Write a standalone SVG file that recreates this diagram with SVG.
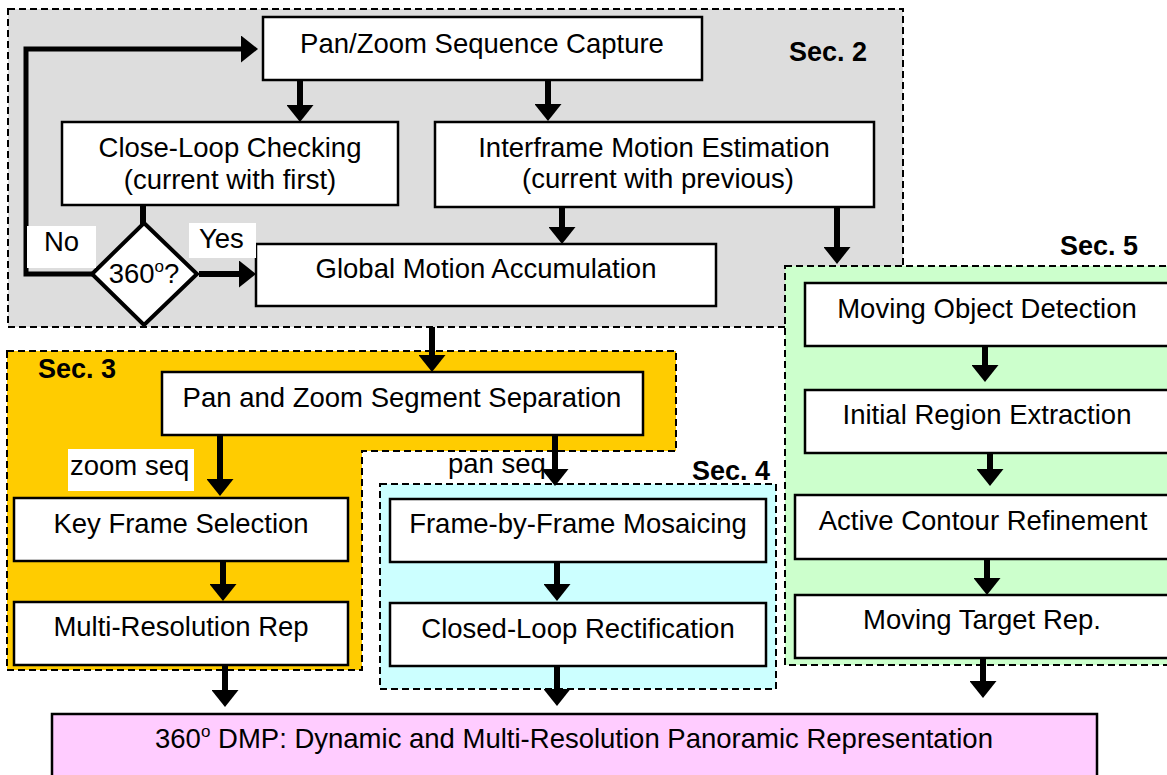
<svg xmlns="http://www.w3.org/2000/svg" width="1167" height="775" viewBox="0 0 1167 775">
  <style>
    text { font-family: "Liberation Sans", Arial, sans-serif; font-size: 27.5px; fill: #000; }
    .sec { font-weight: bold; font-size: 27px; }
    .mid { text-anchor: middle; }
    .box { fill: #fff; stroke: #000; stroke-width: 2.5; }
    .region { stroke: #000; stroke-width: 2; stroke-dasharray: 7 4; }
    .arrow { fill: none; stroke: #000; stroke-width: 6; marker-end: url(#ah); }
    .loop { fill: none; stroke: #000; stroke-width: 5; }
  </style>
  <defs>
    <marker id="ah" viewBox="0 0 17 27" refX="3" refY="13.5" markerWidth="17" markerHeight="27" orient="auto" markerUnits="userSpaceOnUse">
      <path d="M0,0 L17,13.5 L0,27 z" fill="#000"/>
    </marker>
  </defs>

  <rect width="1167" height="775" fill="#fff"/>

  <!-- section backgrounds -->
  <g id="sec2">
    <rect class="region" x="8" y="9" width="895" height="318" fill="#dddddd"/>
    <text class="sec" x="789" y="61">Sec. 2</text>
  </g>
  <g id="sec3">
    <polygon class="region" points="7,351 676,351 676,451 362,451 362,670 7,670" fill="#ffcc00"/>
    <text class="sec" x="38" y="378">Sec. 3</text>
  </g>
  <g id="sec4">
    <rect class="region" x="380" y="484" width="396" height="205" fill="#ccffff"/>
    <text class="sec" x="692" y="480">Sec. 4</text>
  </g>
  <g id="sec5">
    <rect class="region" x="785" y="266" width="400" height="399" fill="#ccffcc"/>
    <text class="sec" x="1060" y="255">Sec. 5</text>
  </g>

  <!-- Sec. 2 nodes -->
  <g id="capture">
    <rect class="box" x="263" y="17" width="439" height="63"/>
    <text class="mid" x="482" y="53">Pan/Zoom Sequence Capture</text>
  </g>
  <g id="closeloop">
    <rect class="box" x="62" y="122" width="336" height="83"/>
    <text class="mid" x="230" y="157">Close-Loop Checking</text>
    <text class="mid" x="230" y="189">(current with first)</text>
  </g>
  <g id="interframe">
    <rect class="box" x="435" y="122" width="439" height="85"/>
    <text class="mid" x="654" y="157">Interframe Motion Estimation</text>
    <text class="mid" x="658" y="188">(current with previous)</text>
  </g>
  <g id="global">
    <rect class="box" x="256" y="244" width="460" height="62"/>
    <text class="mid" x="486" y="278">Global Motion Accumulation</text>
  </g>
  <g id="decision">
    <polygon points="144,223 197,274 144,325 92,274" fill="#fff" stroke="#000" stroke-width="4"/>
    <text class="mid" x="144" y="283">360<tspan font-size="17" dy="-11">o</tspan><tspan dy="11">?</tspan></text>
  </g>

  <!-- Sec. 3 nodes -->
  <g id="separation">
    <rect class="box" x="162" y="372" width="481" height="63"/>
    <text class="mid" x="402" y="407">Pan and Zoom Segment Separation</text>
  </g>
  <g id="keyframe">
    <rect class="box" x="14" y="498" width="334" height="63"/>
    <text class="mid" x="181" y="533">Key Frame Selection</text>
  </g>
  <g id="multires">
    <rect class="box" x="14" y="602" width="334" height="63"/>
    <text class="mid" x="181" y="636">Multi-Resolution Rep</text>
  </g>

  <!-- Sec. 4 nodes -->
  <g id="mosaicing">
    <rect class="box" x="390" y="499" width="376" height="63"/>
    <text class="mid" x="578" y="533">Frame-by-Frame Mosaicing</text>
  </g>
  <g id="rectification">
    <rect class="box" x="390" y="603" width="376" height="63"/>
    <text class="mid" x="578" y="638">Closed-Loop Rectification</text>
  </g>

  <!-- Sec. 5 nodes -->
  <g id="detection">
    <rect class="box" x="805" y="283" width="370" height="63"/>
    <text class="mid" x="987" y="318">Moving Object Detection</text>
  </g>
  <g id="extraction">
    <rect class="box" x="805" y="390" width="370" height="63"/>
    <text class="mid" x="987" y="424">Initial Region Extraction</text>
  </g>
  <g id="contour">
    <rect class="box" x="795" y="495" width="380" height="64"/>
    <text class="mid" x="983" y="530">Active Contour Refinement</text>
  </g>
  <g id="target">
    <rect class="box" x="795" y="595" width="380" height="63"/>
    <text class="mid" x="982" y="629">Moving Target Rep.</text>
  </g>

  <!-- output node -->
  <g id="dmp">
    <rect x="52" y="714" width="1045" height="70" fill="#ffccff" stroke="#000" stroke-width="2.5"/>
    <text class="mid" x="574" y="748">360<tspan font-size="17" dy="-11">o</tspan><tspan dy="11"> DMP: Dynamic and Multi-Resolution Panoramic Representation</tspan></text>
  </g>

  <!-- connectors -->
  <g id="connectors">
    <line x1="143" y1="205" x2="143" y2="224" stroke="#000" stroke-width="6"/>
    <path class="loop" d="M92,274 H26 V49 H244" marker-end="url(#ah)"/>
    <path class="arrow" d="M199,274 H242"/>
    <path class="arrow" d="M300,80 V108"/>
    <path class="arrow" d="M548,80 V107"/>
    <path class="arrow" d="M562,207 V230"/>
    <path class="arrow" d="M837,207 V250"/>
    <path class="arrow" d="M432,327 V358"/>
    <path class="arrow" d="M220,435 V482"/>
    <path class="arrow" d="M555,435 V472"/>
    <path class="arrow" d="M223,561 V587"/>
    <path class="arrow" d="M225,665 V693"/>
    <path class="arrow" d="M557,562 V587"/>
    <path class="arrow" d="M557,666 V692"/>
    <path class="arrow" d="M985,346 V368"/>
    <path class="arrow" d="M990,453 V472"/>
    <path class="arrow" d="M987,559 V581"/>
    <path class="arrow" d="M983,658 V684"/>
  </g>

  <!-- edge labels -->
  <g id="labels">
    <rect x="27" y="226" width="69" height="42" fill="#fff"/>
    <text x="44" y="251">No</text>
    <rect x="189" y="223" width="67" height="35" fill="#fff"/>
    <text x="199" y="248">Yes</text>
    <rect x="68" y="449" width="126" height="42" fill="#fff"/>
    <text x="70" y="475">zoom seq</text>
    <text x="448" y="473">pan seq</text>
  </g>
</svg>
